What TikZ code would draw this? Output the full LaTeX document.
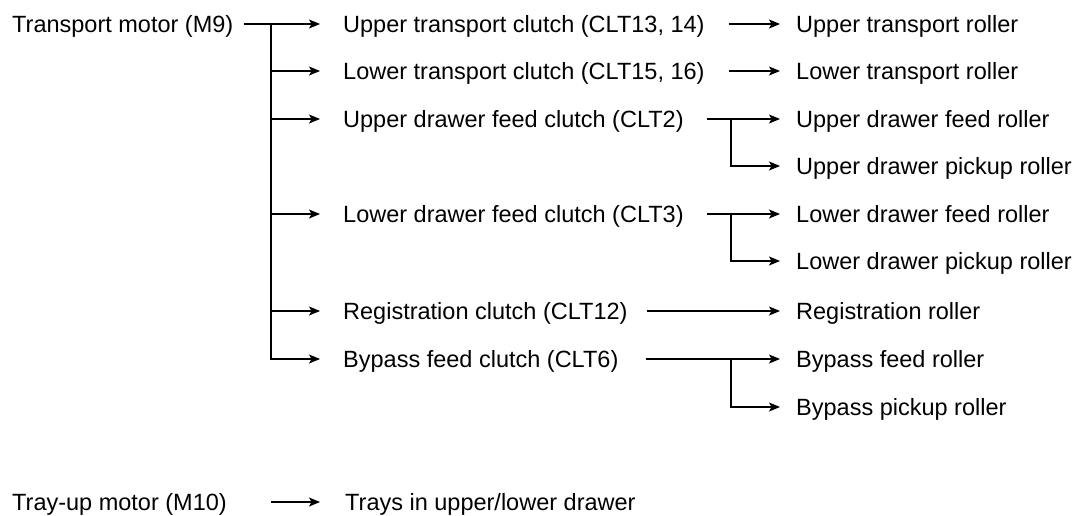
\documentclass[tikz,border=0pt]{standalone}
\usepackage{fontspec}
\setmainfont{Liberation Sans}
\usetikzlibrary{arrows.meta}

\tikzset{
  lbl/.style={anchor=west, inner sep=0pt, text height=16.8pt, text depth=0pt,
    font=\fontsize{23.5}{28}\selectfont},
  link/.style={line width=1.1pt},
  arr/.style={link, -{Stealth[length=11pt, width=9pt, inset=2.5pt]}, shorten >=16pt},
}

\begin{document}
\begin{tikzpicture}[x=1pt, y=-1pt]
  \useasboundingbox (0,0) rectangle (1079,515);

  % Define nodes with their coordinates
  \node[lbl] (m9) at (12, 24) {Transport motor (M9)};
  \node[lbl] (m10) at (12, 502) {Tray-up motor (M10)};

  \node[lbl] (c13) at (343, 24) {Upper transport clutch (CLT13, 14)};
  \node[lbl] (c15) at (343, 71) {Lower transport clutch (CLT15, 16)};
  \node[lbl] (c2) at (343, 119) {Upper drawer feed clutch (CLT2)};
  \node[lbl] (c3) at (343, 214) {Lower drawer feed clutch (CLT3)};
  \node[lbl] (c12) at (343, 311) {Registration clutch (CLT12)};
  \node[lbl] (c6) at (343, 359) {Bypass feed clutch (CLT6)};
  \node[lbl] (trays) at (345, 502) {Trays in upper/lower drawer};

  \node[lbl] (r1) at (796, 24) {Upper transport roller};
  \node[lbl] (r2) at (796, 71) {Lower transport roller};
  \node[lbl] (r3) at (796, 119) {Upper drawer feed roller};
  \node[lbl] (r3b) at (796, 166) {Upper drawer pickup roller};
  \node[lbl] (r4) at (796, 214) {Lower drawer feed roller};
  \node[lbl] (r4b) at (796, 261) {Lower drawer pickup roller};
  \node[lbl] (r5) at (796, 311) {Registration roller};
  \node[lbl] (r6) at (796, 359) {Bypass feed roller};
  \node[lbl] (r6b) at (796, 407) {Bypass pickup roller};

  % Branch points
  \coordinate (jm) at (271, 24);
  \coordinate (j2) at (731, 119);
  \coordinate (j3) at (731, 214);
  \coordinate (j6) at (731, 359);

  % Motor to clutches
  \draw[link, shorten <=10pt] (m9.east) -- (jm);
  \draw[arr, shorten >=23pt] (jm) -- (c13.west);
  \foreach \n in {c15, c2, c3, c12, c6}
    \draw[arr, shorten >=23pt] (jm) |- (\n.west);
  \draw[arr, shorten >=25pt] (m10 -| jm) -- (trays.west);

  % Clutches to rollers
  \draw[arr, shorten <=24pt] (c13.east) -- (r1.west);
  \draw[arr, shorten <=24pt] (c15.east) -- (r2.west);
  \draw[arr, shorten <=19pt] (c12.east) -- (r5.west);

  \draw[link, shorten <=23pt] (c2.east) -- (j2);
  \draw[arr] (j2) -- (r3.west);
  \draw[arr] (j2) |- (r3b.west);

  \draw[link, shorten <=23pt] (c3.east) -- (j3);
  \draw[arr] (j3) -- (r4.west);
  \draw[arr] (j3) |- (r4b.west);

  \draw[link, shorten <=27pt] (c6.east) -- (j6);
  \draw[arr] (j6) -- (r6.west);
  \draw[arr] (j6) |- (r6b.west);

\end{tikzpicture}
\end{document}
